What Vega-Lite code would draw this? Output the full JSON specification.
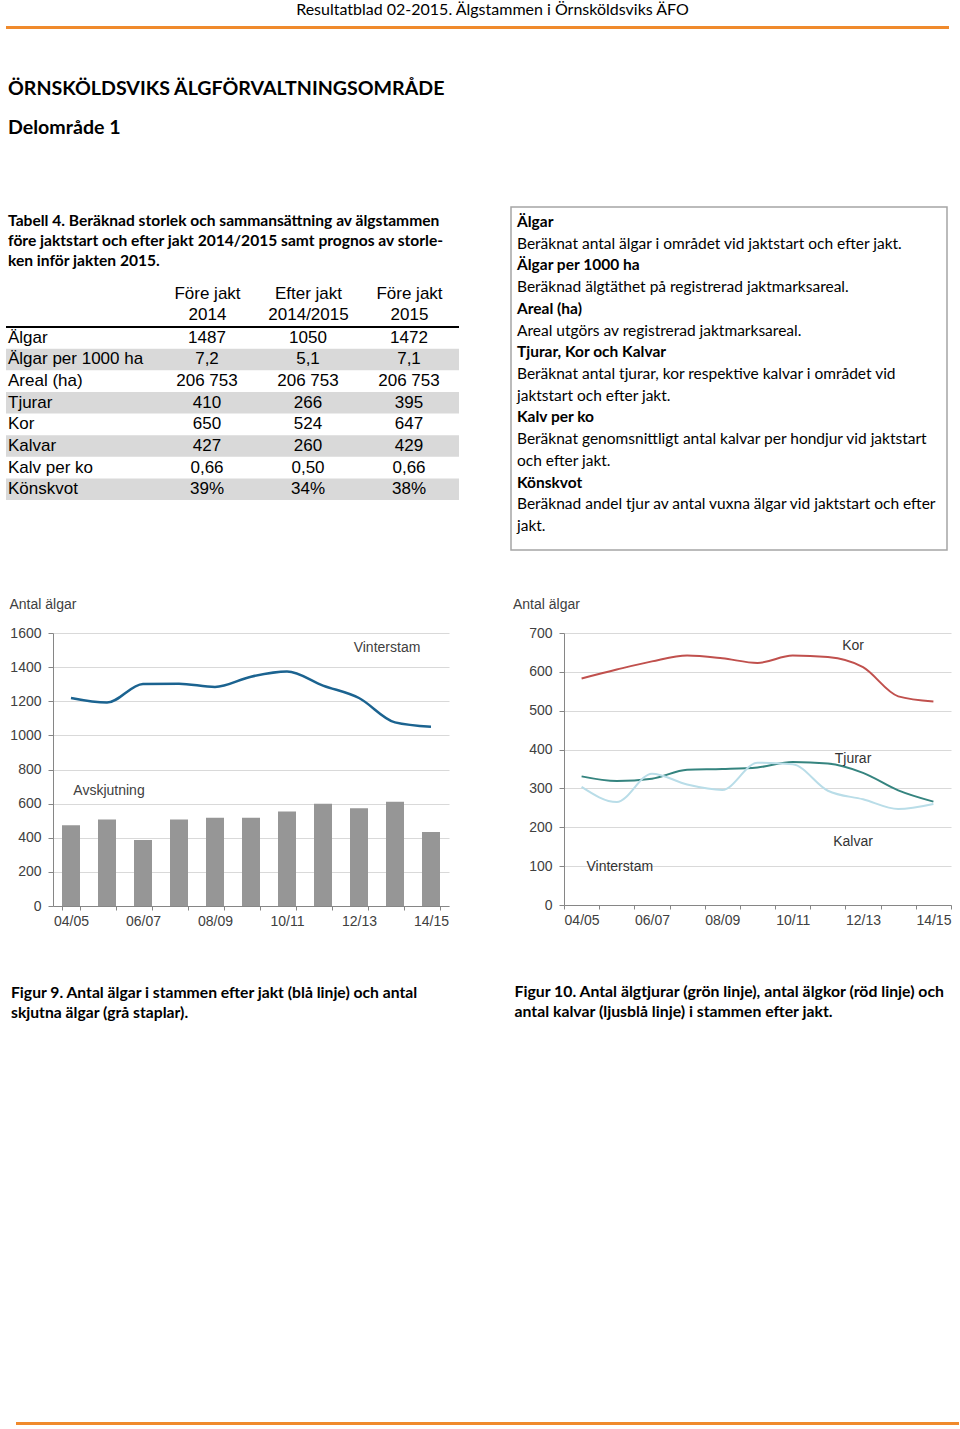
{
  "$schema": "https://vega.github.io/schema/vega-lite/v6.json",
  "padding": {"left": 5, "top": 2, "right": 0, "bottom": 0},
  "background": "white",
  "spacing": 0,
  "config": {
    "view": {"stroke": null},
    "title": {"font": "Lato", "color": "#000000", "fontWeight": "bold", "anchor": "start", "subtitleFont": "Lato", "subtitleColor": "#000000"},
    "axis": {"labelFont": "Liberation Sans", "labelFontSize": 14, "labelColor": "#404040", "titleFont": "Liberation Sans", "titleFontSize": 14, "titleFontWeight": "normal", "titleColor": "#404040", "domainColor": "#868686", "tickColor": "#868686", "gridColor": "#d9d9d9", "labelOverlap": false},
    "text": {"font": "Liberation Sans"}
  },
  "datasets": {
    "tabell": [
      {"rad": "Älgar", "Före jakt 2014": "1487", "Efter jakt 2014/2015": "1050", "Före jakt 2015": "1472"},
      {"rad": "Älgar per 1000 ha", "Före jakt 2014": "7,2", "Efter jakt 2014/2015": "5,1", "Före jakt 2015": "7,1"},
      {"rad": "Areal (ha)", "Före jakt 2014": "206 753", "Efter jakt 2014/2015": "206 753", "Före jakt 2015": "206 753"},
      {"rad": "Tjurar", "Före jakt 2014": "410", "Efter jakt 2014/2015": "266", "Före jakt 2015": "395"},
      {"rad": "Kor", "Före jakt 2014": "650", "Efter jakt 2014/2015": "524", "Före jakt 2015": "647"},
      {"rad": "Kalvar", "Före jakt 2014": "427", "Efter jakt 2014/2015": "260", "Före jakt 2015": "429"},
      {"rad": "Kalv per ko", "Före jakt 2014": "0,66", "Efter jakt 2014/2015": "0,50", "Före jakt 2015": "0,66"},
      {"rad": "Könskvot", "Före jakt 2014": "39%", "Efter jakt 2014/2015": "34%", "Före jakt 2015": "38%"}
    ],
    "definitioner": [
      {"nr": 1, "typ": "rubrik", "text": "Älgar"},
      {"nr": 2, "typ": "text", "text": "Beräknat antal älgar i området vid jaktstart och efter jakt."},
      {"nr": 3, "typ": "rubrik", "text": "Älgar per 1000 ha"},
      {"nr": 4, "typ": "text", "text": "Beräknad älgtäthet på registrerad jaktmarksareal."},
      {"nr": 5, "typ": "rubrik", "text": "Areal (ha)"},
      {"nr": 6, "typ": "text", "text": "Areal utgörs av registrerad jaktmarksareal."},
      {"nr": 7, "typ": "rubrik", "text": "Tjurar, Kor och Kalvar"},
      {"nr": 8, "typ": "text", "text": "Beräknat antal tjurar, kor respektive kalvar i området vid"},
      {"nr": 9, "typ": "text", "text": "jaktstart och efter jakt."},
      {"nr": 10, "typ": "rubrik", "text": "Kalv per ko"},
      {"nr": 11, "typ": "text", "text": "Beräknat genomsnittligt antal kalvar per hondjur vid jaktstart"},
      {"nr": 12, "typ": "text", "text": "och efter jakt."},
      {"nr": 13, "typ": "rubrik", "text": "Könskvot"},
      {"nr": 14, "typ": "text", "text": "Beräknad andel tjur av antal vuxna älgar vid jaktstart och efter"},
      {"nr": 15, "typ": "text", "text": "jakt."}
    ],
    "algar": [
      {"ar": "04/05", "avskjutning": 473, "vinterstam": 1219},
      {"ar": "05/06", "avskjutning": 507, "vinterstam": 1192},
      {"ar": "06/07", "avskjutning": 387, "vinterstam": 1301},
      {"ar": "07/08", "avskjutning": 507, "vinterstam": 1303},
      {"ar": "08/09", "avskjutning": 517, "vinterstam": 1284},
      {"ar": "09/10", "avskjutning": 517, "vinterstam": 1344},
      {"ar": "10/11", "avskjutning": 554, "vinterstam": 1374},
      {"ar": "11/12", "avskjutning": 599, "vinterstam": 1292},
      {"ar": "12/13", "avskjutning": 573, "vinterstam": 1219},
      {"ar": "13/14", "avskjutning": 611, "vinterstam": 1076},
      {"ar": "14/15", "avskjutning": 434, "vinterstam": 1050}
    ],
    "etiketter1": [
      {"ar": "13/14", "varde": 1512, "etikett": "Vinterstam"},
      {"ar": "05/06", "varde": 674, "etikett": "Avskjutning"}
    ],
    "kon": [
      {"ar": "04/05", "kategori": "Kor", "antal": 583},
      {"ar": "05/06", "kategori": "Kor", "antal": 606},
      {"ar": "06/07", "kategori": "Kor", "antal": 627},
      {"ar": "07/08", "kategori": "Kor", "antal": 642},
      {"ar": "08/09", "kategori": "Kor", "antal": 635},
      {"ar": "09/10", "kategori": "Kor", "antal": 623},
      {"ar": "10/11", "kategori": "Kor", "antal": 642},
      {"ar": "11/12", "kategori": "Kor", "antal": 638},
      {"ar": "12/13", "kategori": "Kor", "antal": 612},
      {"ar": "13/14", "kategori": "Kor", "antal": 537},
      {"ar": "14/15", "kategori": "Kor", "antal": 524},
      {"ar": "04/05", "kategori": "Tjurar", "antal": 331},
      {"ar": "05/06", "kategori": "Tjurar", "antal": 319},
      {"ar": "06/07", "kategori": "Tjurar", "antal": 325},
      {"ar": "07/08", "kategori": "Tjurar", "antal": 348},
      {"ar": "08/09", "kategori": "Tjurar", "antal": 350},
      {"ar": "09/10", "kategori": "Tjurar", "antal": 354},
      {"ar": "10/11", "kategori": "Tjurar", "antal": 368},
      {"ar": "11/12", "kategori": "Tjurar", "antal": 364},
      {"ar": "12/13", "kategori": "Tjurar", "antal": 340},
      {"ar": "13/14", "kategori": "Tjurar", "antal": 295},
      {"ar": "14/15", "kategori": "Tjurar", "antal": 266},
      {"ar": "04/05", "kategori": "Kalvar", "antal": 304},
      {"ar": "05/06", "kategori": "Kalvar", "antal": 265},
      {"ar": "06/07", "kategori": "Kalvar", "antal": 338},
      {"ar": "07/08", "kategori": "Kalvar", "antal": 310},
      {"ar": "08/09", "kategori": "Kalvar", "antal": 296},
      {"ar": "09/10", "kategori": "Kalvar", "antal": 366},
      {"ar": "10/11", "kategori": "Kalvar", "antal": 362},
      {"ar": "11/12", "kategori": "Kalvar", "antal": 294},
      {"ar": "12/13", "kategori": "Kalvar", "antal": 272},
      {"ar": "13/14", "kategori": "Kalvar", "antal": 247},
      {"ar": "14/15", "kategori": "Kalvar", "antal": 260}
    ],
    "etiketter2": [
      {"ar": "12/13", "varde": 667, "etikett": "Kor"},
      {"ar": "12/13", "varde": 377, "etikett": "Tjurar"},
      {"ar": "12/13", "varde": 163, "etikett": "Kalvar"},
      {"ar": "05/06", "varde": 99, "etikett": "Vinterstam"}
    ]
  },
  "vconcat": [
    {
      "width": 943, "height": 3,
      "view": {"fill": "#F08A2C", "stroke": null},
      "title": {"text": "Resultatblad 02-2015. Älgstammen i Örnsköldsviks ÄFO", "anchor": "middle", "dx": 15, "fontSize": 16, "fontWeight": "normal", "offset": 8},
      "data": {"values": []},
      "mark": "text",
      "encoding": {}
    },
    {
      "width": 943, "height": 49,
      "data": {"values": []},
      "mark": "text",
      "encoding": {}
    },
    {
      "title": {"text": ["ÖRNSKÖLDSVIKS ÄLGFÖRVALTNINGSOMRÅDE", "Delområde 1"], "fontSize": 19.6, "lineHeight": 39, "offset": 68, "dx": 3},
      "spacing": 50,
      "hconcat": [
        {
          "width": 453, "height": 293,
          "title": {"text": ["Tabell 4. Beräknad storlek och sammansättning av älgstammen", "före jaktstart och efter jakt 2014/2015 samt prognos av storle-", "ken inför jakten 2015."], "fontSize": 15.6, "lineHeight": 20, "offset": -63, "dx": 3},
          "layer": [
            {
              "data": {"name": "tabell"},
              "transform": [{"filter": "indexof(['Älgar per 1000 ha','Tjurar','Kalvar','Könskvot'], datum.rad) >= 0"}],
              "mark": {"type": "rect", "color": "#d9d9d9"},
              "encoding": {
                "y": {"field": "rad", "type": "nominal", "sort": null, "scale": {"domain": ["Älgar", "Älgar per 1000 ha", "Areal (ha)", "Tjurar", "Kor", "Kalvar", "Kalv per ko", "Könskvot"], "range": [120, 293], "paddingInner": 0, "paddingOuter": 0}, "axis": null}
              }
            },
            {
              "data": {"name": "tabell"},
              "mark": {"type": "text", "align": "left", "baseline": "middle", "fontSize": 17, "color": "#000000"},
              "encoding": {
                "x": {"value": 2},
                "y": {"field": "rad", "type": "nominal", "sort": null, "scale": {"domain": ["Älgar", "Älgar per 1000 ha", "Areal (ha)", "Tjurar", "Kor", "Kalvar", "Kalv per ko", "Könskvot"], "range": [120, 293], "paddingInner": 0, "paddingOuter": 0}, "axis": null},
                "text": {"field": "rad"}
              }
            },
            {
              "data": {"name": "tabell"},
              "transform": [{"fold": ["Före jakt 2014", "Efter jakt 2014/2015", "Före jakt 2015"], "as": ["kolumn", "varde"]}],
              "mark": {"type": "text", "align": "center", "baseline": "middle", "fontSize": 17, "color": "#000000"},
              "encoding": {
                "x": {"field": "kolumn", "type": "nominal", "scale": {"type": "point", "domain": ["Före jakt 2014", "Efter jakt 2014/2015", "Före jakt 2015"], "range": [201, 403], "padding": 0},
                  "axis": {"orient": "top", "offset": -120, "title": null, "domain": false, "ticks": false, "grid": false, "labelAngle": 0, "labelFont": "Liberation Sans", "labelFontSize": 17, "labelColor": "#000000", "labelLineHeight": 21, "labelPadding": 25, "labelOverlap": false,
                    "labelExpr": "[slice(datum.label, 0, indexof(datum.label, 'jakt') + 4), slice(datum.label, indexof(datum.label, 'jakt') + 5)]"}},
                "y": {"field": "rad", "type": "nominal", "sort": null, "scale": {"domain": ["Älgar", "Älgar per 1000 ha", "Areal (ha)", "Tjurar", "Kor", "Kalvar", "Kalv per ko", "Könskvot"], "range": [120, 293], "paddingInner": 0, "paddingOuter": 0}, "axis": null},
                "text": {"field": "varde"}
              }
            },
            {
              "data": {"name": "tabell"},
              "transform": [{"filter": "datum.rad == 'Älgar'"}],
              "mark": {"type": "rule", "color": "#000000", "strokeWidth": 2},
              "encoding": {
                "y": {"field": "rad", "type": "nominal", "sort": null, "bandPosition": 0, "scale": {"domain": ["Älgar", "Älgar per 1000 ha", "Areal (ha)", "Tjurar", "Kor", "Kalvar", "Kalv per ko", "Könskvot"], "range": [120, 293], "paddingInner": 0, "paddingOuter": 0}, "axis": null}
              }
            }
          ]
        },
        {
          "width": 436, "height": 343,
          "view": {"stroke": "#A5A5A5", "strokeWidth": 1.5},
          "data": {"name": "definitioner"},
          "layer": [
            {
              "transform": [{"filter": "datum.typ == 'rubrik'"}],
              "mark": {"type": "text", "align": "left", "baseline": "middle", "font": "Lato", "fontSize": 15.5, "fontWeight": "bold", "color": "#000000"},
              "encoding": {
                "x": {"value": 6},
                "y": {"field": "nr", "type": "quantitative", "scale": {"domain": [0.31, 16.1], "reverse": true, "nice": false, "zero": false}, "axis": null},
                "text": {"field": "text"}
              }
            },
            {
              "transform": [{"filter": "datum.typ == 'text'"}],
              "mark": {"type": "text", "align": "left", "baseline": "middle", "font": "Lato", "fontSize": 15.5, "color": "#000000"},
              "encoding": {
                "x": {"value": 6},
                "y": {"field": "nr", "type": "quantitative", "scale": {"domain": [0.31, 16.1], "reverse": true, "nice": false, "zero": false}, "axis": null},
                "text": {"field": "text"}
              }
            }
          ]
        }
      ]
    },
    {
      "width": 943, "height": 46,
      "data": {"values": []},
      "mark": "text",
      "encoding": {}
    },
    {
      "spacing": 63,
      "hconcat": [
        {
          "width": 443, "height": 273,
          "title": {"text": ["Figur 9. Antal älgar i stammen efter jakt (blå linje) och antal", "skjutna älgar (grå staplar)."], "orient": "bottom", "frame": "bounds", "anchor": "start", "dx": 5, "offset": 58, "fontSize": 15.7, "lineHeight": 20},
          "data": {"name": "algar"},
          "layer": [
            {
              "mark": {"type": "bar", "color": "#969696"},
              "encoding": {
                "x": {"field": "ar", "type": "nominal", "sort": null, "scale": {"range": [47, 443], "paddingInner": 0.5, "paddingOuter": 0.25},
                  "axis": {"title": null, "labelAngle": 0, "tickBand": "extent", "tickSize": 4, "labelPadding": 4,
                    "labelExpr": "indexof(['04/05','06/07','08/09','10/11','12/13','14/15'], datum.label) >= 0 ? datum.label : ''"}},
                "y": {"field": "avskjutning", "type": "quantitative", "title": "Antal älgar", "scale": {"domain": [0, 1600]},
                  "axis": {"offset": -47, "values": [0, 200, 400, 600, 800, 1000, 1200, 1400, 1600], "format": "d", "grid": true, "tickSize": 5, "labelPadding": 7, "titleAngle": 0, "titleAlign": "left", "titleBaseline": "middle", "titleX": -44, "titleY": -29}}
              }
            },
            {
              "mark": {"type": "line", "interpolate": "monotone", "color": "#1B6390", "strokeWidth": 2.5},
              "encoding": {
                "x": {"field": "ar", "type": "nominal", "sort": null},
                "y": {"field": "vinterstam", "type": "quantitative", "title": "Antal älgar",
                  "axis": {"offset": -47, "values": [0, 200, 400, 600, 800, 1000, 1200, 1400, 1600], "format": "d", "grid": true, "tickSize": 5, "labelPadding": 7, "titleAngle": 0, "titleAlign": "left", "titleBaseline": "middle", "titleX": -44, "titleY": -29}}
              }
            },
            {
              "data": {"name": "etiketter1"},
              "transform": [{"filter": "datum.etikett == 'Vinterstam'"}],
              "mark": {"type": "text", "fontSize": 14, "color": "#404040", "dx": -8},
              "encoding": {
                "x": {"field": "ar", "type": "nominal", "sort": null},
                "y": {"field": "varde", "type": "quantitative", "title": "Antal älgar",
                  "axis": {"offset": -47, "values": [0, 200, 400, 600, 800, 1000, 1200, 1400, 1600], "format": "d", "grid": true, "tickSize": 5, "labelPadding": 7, "titleAngle": 0, "titleAlign": "left", "titleBaseline": "middle", "titleX": -44, "titleY": -29}},
                "text": {"field": "etikett"}
              }
            },
            {
              "data": {"name": "etiketter1"},
              "transform": [{"filter": "datum.etikett == 'Avskjutning'"}],
              "mark": {"type": "text", "fontSize": 14, "color": "#404040", "dx": 2},
              "encoding": {
                "x": {"field": "ar", "type": "nominal", "sort": null},
                "y": {"field": "varde", "type": "quantitative", "title": "Antal älgar",
                  "axis": {"offset": -47, "values": [0, 200, 400, 600, 800, 1000, 1200, 1400, 1600], "format": "d", "grid": true, "tickSize": 5, "labelPadding": 7, "titleAngle": 0, "titleAlign": "left", "titleBaseline": "middle", "titleX": -44, "titleY": -29}},
                "text": {"field": "etikett"}
              }
            }
          ]
        },
        {
          "width": 387, "height": 272,
          "title": {"text": ["Figur 10. Antal älgtjurar (grön linje), antal älgkor (röd linje) och", "antal kalvar (ljusblå linje) i stammen efter jakt."], "orient": "bottom", "frame": "bounds", "anchor": "start", "dx": 2, "offset": 58, "fontSize": 15.8, "lineHeight": 20},
          "layer": [
            {
              "data": {"name": "kon"},
              "mark": {"type": "line", "interpolate": "monotone", "strokeWidth": 2},
              "encoding": {
                "x": {"field": "ar", "type": "nominal", "sort": null, "scale": {"type": "band", "paddingInner": 0, "paddingOuter": 0},
                  "axis": {"title": null, "labelAngle": 0, "tickBand": "extent", "tickSize": 4, "labelPadding": 4,
                    "labelExpr": "indexof(['04/05','06/07','08/09','10/11','12/13','14/15'], datum.label) >= 0 ? datum.label : ''"}},
                "y": {"field": "antal", "type": "quantitative", "title": "Antal älgar", "scale": {"domain": [0, 700]},
                  "axis": {"values": [0, 100, 200, 300, 400, 500, 600, 700], "format": "d", "grid": true, "tickSize": 5, "labelPadding": 7, "titleAngle": 0, "titleAlign": "left", "titleBaseline": "middle", "titleX": -51.5, "titleY": -29}},
                "color": {"field": "kategori", "type": "nominal", "scale": {"domain": ["Kalvar", "Tjurar", "Kor"], "range": ["#B9DDE8", "#35847F", "#C0504D"]}, "legend": null}
              }
            },
            {
              "data": {"name": "etiketter2"},
              "transform": [{"filter": "datum.etikett != 'Vinterstam'"}],
              "mark": {"type": "text", "fontSize": 14, "color": "#333333", "dx": -10},
              "encoding": {
                "x": {"field": "ar", "type": "nominal", "sort": null},
                "y": {"field": "varde", "type": "quantitative", "title": "Antal älgar",
                  "axis": {"values": [0, 100, 200, 300, 400, 500, 600, 700], "format": "d", "grid": true, "tickSize": 5, "labelPadding": 7, "titleAngle": 0, "titleAlign": "left", "titleBaseline": "middle", "titleX": -51.5, "titleY": -29}},
                "text": {"field": "etikett"}
              }
            },
            {
              "data": {"name": "etiketter2"},
              "transform": [{"filter": "datum.etikett == 'Vinterstam'"}],
              "mark": {"type": "text", "fontSize": 14, "color": "#333333", "dx": 3},
              "encoding": {
                "x": {"field": "ar", "type": "nominal", "sort": null},
                "y": {"field": "varde", "type": "quantitative", "title": "Antal älgar",
                  "axis": {"values": [0, 100, 200, 300, 400, 500, 600, 700], "format": "d", "grid": true, "tickSize": 5, "labelPadding": 7, "titleAngle": 0, "titleAlign": "left", "titleBaseline": "middle", "titleX": -51.5, "titleY": -29}},
                "text": {"field": "etikett"}
              }
            }
          ]
        }
      ]
    },
    {
      "width": 943, "height": 401,
      "data": {"values": []},
      "mark": "text",
      "encoding": {}
    },
    {
      "spacing": 0,
      "hconcat": [
        {"width": 10, "height": 3, "data": {"values": []}, "mark": "text", "encoding": {}},
        {"width": 943, "height": 3, "view": {"fill": "#F08A2C", "stroke": null}, "data": {"values": []}, "mark": "text", "encoding": {}}
      ]
    }
  ]
}
